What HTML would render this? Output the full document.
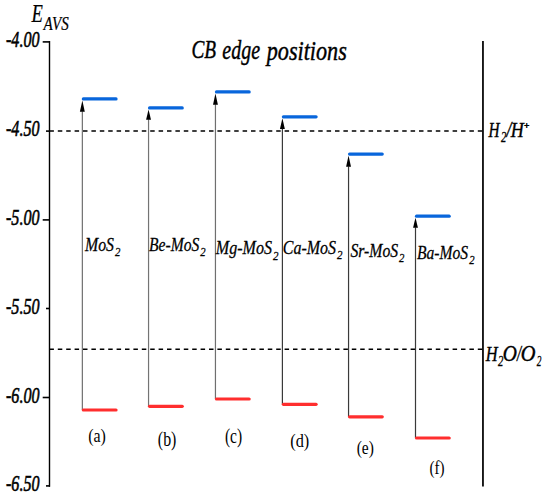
<!DOCTYPE html>
<html><head><meta charset="utf-8"><style>
html,body{margin:0;padding:0;background:#fff;}
body{width:550px;height:498px;overflow:hidden;}
svg{display:block;}
text{font-family:"Liberation Serif",serif;fill:#000;}
</style></head><body>
<svg width="550" height="498" viewBox="0 0 550 498">
<rect width="550" height="498" fill="#fff"/>
<line x1="49.5" y1="41.1" x2="49.5" y2="486.7" stroke="#000" stroke-width="1.4"/>
<line x1="482.95" y1="41" x2="482.95" y2="486.6" stroke="#161616" stroke-width="1.9"/>
<line x1="42.7" y1="41.9" x2="50" y2="41.9" stroke="#000" stroke-width="1.6"/>
<line x1="42.7" y1="219.9" x2="50" y2="219.9" stroke="#000" stroke-width="1.6"/>
<line x1="42.7" y1="397.5" x2="50" y2="397.5" stroke="#000" stroke-width="1.6"/>
<line x1="46" y1="131.1" x2="50" y2="131.1" stroke="#000" stroke-width="1.6"/>
<line x1="46" y1="308.5" x2="50" y2="308.5" stroke="#000" stroke-width="1.6"/>
<line x1="46" y1="485.9" x2="50" y2="485.9" stroke="#000" stroke-width="1.6"/>
<line x1="49.4" y1="131.0" x2="482.3" y2="131.0" stroke="#000" stroke-width="1.6" stroke-dasharray="4.5 3.9"/>
<line x1="49.4" y1="349.3" x2="482.3" y2="349.3" stroke="#000" stroke-width="1.6" stroke-dasharray="4.5 3.9"/>
<line x1="82.35" y1="410.00" x2="82.35" y2="111.15" stroke="#6f6f6f" stroke-width="1.2"/>
<path d="M82.35 100.45 L84.80 111.65 L79.90 111.65 Z" fill="#000"/>
<line x1="83.35" y1="98.95" x2="116.05" y2="98.95" stroke="#0866dc" stroke-width="3.2" stroke-linecap="round"/>
<line x1="83.35" y1="410.00" x2="116.05" y2="410.00" stroke="#ff2e2e" stroke-width="3.2" stroke-linecap="round"/>
<line x1="148.55" y1="406.30" x2="148.55" y2="119.25" stroke="#737373" stroke-width="1.2"/>
<path d="M148.55 109.45 L151.00 119.75 L146.10 119.75 Z" fill="#000"/>
<line x1="149.55" y1="107.95" x2="182.25" y2="107.95" stroke="#0866dc" stroke-width="3.2" stroke-linecap="round"/>
<line x1="149.55" y1="406.30" x2="182.25" y2="406.30" stroke="#ff2e2e" stroke-width="3.2" stroke-linecap="round"/>
<line x1="215.45" y1="399.00" x2="215.45" y2="104.20" stroke="#6f6f6f" stroke-width="1.2"/>
<path d="M215.45 93.40 L217.90 104.70 L213.00 104.70 Z" fill="#000"/>
<line x1="216.45" y1="91.90" x2="249.15" y2="91.90" stroke="#0866dc" stroke-width="3.2" stroke-linecap="round"/>
<line x1="216.45" y1="399.00" x2="249.15" y2="399.00" stroke="#ff2e2e" stroke-width="3.2" stroke-linecap="round"/>
<line x1="282.40" y1="404.30" x2="282.40" y2="128.60" stroke="#3a3a3a" stroke-width="1.2"/>
<path d="M282.40 118.30 L284.85 129.10 L279.95 129.10 Z" fill="#000"/>
<line x1="283.40" y1="116.80" x2="316.10" y2="116.80" stroke="#0866dc" stroke-width="3.2" stroke-linecap="round"/>
<line x1="283.40" y1="404.30" x2="316.10" y2="404.30" stroke="#ff2e2e" stroke-width="3.2" stroke-linecap="round"/>
<line x1="348.55" y1="416.80" x2="348.55" y2="166.35" stroke="#3a3a3a" stroke-width="1.2"/>
<path d="M348.55 155.55 L351.00 166.85 L346.10 166.85 Z" fill="#000"/>
<line x1="349.55" y1="154.05" x2="382.25" y2="154.05" stroke="#0866dc" stroke-width="3.2" stroke-linecap="round"/>
<line x1="349.55" y1="416.80" x2="382.25" y2="416.80" stroke="#ff2e2e" stroke-width="3.2" stroke-linecap="round"/>
<line x1="415.50" y1="438.00" x2="415.50" y2="227.30" stroke="#3a3a3a" stroke-width="1.2"/>
<path d="M415.50 217.70 L417.95 227.80 L413.05 227.80 Z" fill="#000"/>
<line x1="416.50" y1="216.20" x2="449.20" y2="216.20" stroke="#0866dc" stroke-width="3.2" stroke-linecap="round"/>
<line x1="416.50" y1="438.00" x2="449.20" y2="438.00" stroke="#ff2e2e" stroke-width="3.2" stroke-linecap="round"/>
<g transform="translate(31.39,22.49) scale(0.7446,0.9652)"><text x="0" y="0" font-size="25" font-style="italic" font-weight="normal" stroke="#000" stroke-width="0.2">E</text></g>
<g transform="translate(43.55,29.66) scale(0.8593,1.0443)"><text x="0" y="0" font-size="17.5" font-style="italic" font-weight="normal" stroke="#000" stroke-width="0.2">AVS</text></g>
<g transform="translate(191.39,57.62) scale(0.7869,1.0625)"><text x="0" y="0" font-size="24.5" font-style="italic" font-weight="normal" stroke="#000" stroke-width="0.4">CB</text></g>
<g transform="translate(222.32,58.60) scale(0.8151,1.0994)"><text x="0" y="0" font-size="24.5" font-style="italic" font-weight="normal" stroke="#000" stroke-width="0.4">edge</text></g>
<g transform="translate(266.71,59.52) scale(0.9049,1.0953)"><text x="0" y="0" font-size="24.5" font-style="italic" font-weight="normal" stroke="#000" stroke-width="0.4">positions</text></g>
<g transform="translate(6.00,47.38) scale(0.7678,1.0572)"><text x="0" y="0" font-size="21" font-style="italic" font-weight="normal" stroke="#000" stroke-width="0.55">-4.00</text></g>
<g transform="translate(6.00,136.34) scale(0.7678,1.0572)"><text x="0" y="0" font-size="21" font-style="italic" font-weight="normal" stroke="#000" stroke-width="0.55">-4.50</text></g>
<g transform="translate(6.00,225.38) scale(0.7678,1.0572)"><text x="0" y="0" font-size="21" font-style="italic" font-weight="normal" stroke="#000" stroke-width="0.55">-5.00</text></g>
<g transform="translate(6.00,313.84) scale(0.7678,1.0572)"><text x="0" y="0" font-size="21" font-style="italic" font-weight="normal" stroke="#000" stroke-width="0.55">-5.50</text></g>
<g transform="translate(6.00,402.84) scale(0.7678,1.0572)"><text x="0" y="0" font-size="21" font-style="italic" font-weight="normal" stroke="#000" stroke-width="0.55">-6.00</text></g>
<g transform="translate(6.00,491.38) scale(0.7678,1.0572)"><text x="0" y="0" font-size="21" font-style="italic" font-weight="normal" stroke="#000" stroke-width="0.55">-6.50</text></g>
<g transform="translate(85.00,250.75) scale(0.8303,0.9488)"><text x="0" y="0" font-size="19" font-style="italic" font-weight="normal" stroke="#000" stroke-width="0.27999999999999997">MoS<tspan font-size="13" dx="1.2" dy="5.3">2</tspan></text></g>
<g transform="translate(149.00,251.17) scale(0.8215,0.9428)"><text x="0" y="0" font-size="19" font-style="italic" font-weight="normal" stroke="#000" stroke-width="0.27999999999999997">Be-MoS<tspan font-size="13" dx="1.2" dy="5.3">2</tspan></text></g>
<g transform="translate(215.82,254.49) scale(0.8444,0.9862)"><text x="0" y="0" font-size="19" font-style="italic" font-weight="normal" stroke="#000" stroke-width="0.27999999999999997">Mg-MoS<tspan font-size="13" dx="1.2" dy="5.3">2</tspan></text></g>
<g transform="translate(282.83,254.39) scale(0.8404,0.9586)"><text x="0" y="0" font-size="19" font-style="italic" font-weight="normal" stroke="#000" stroke-width="0.27999999999999997">Ca-MoS<tspan font-size="13" dx="1.2" dy="5.3">2</tspan></text></g>
<g transform="translate(350.47,256.58) scale(0.8262,1.0386)"><text x="0" y="0" font-size="19" font-style="italic" font-weight="normal" stroke="#000" stroke-width="0.27999999999999997">Sr-MoS<tspan font-size="13" dx="1.2" dy="5.3">2</tspan></text></g>
<g transform="translate(417.00,259.39) scale(0.8222,0.9586)"><text x="0" y="0" font-size="19" font-style="italic" font-weight="normal" stroke="#000" stroke-width="0.27999999999999997">Ba-MoS<tspan font-size="13" dx="1.2" dy="5.3">2</tspan></text></g>
<g transform="translate(88.21,442.38) scale(0.8396,1.0417)"><text x="0" y="0" font-size="19" font-style="normal" font-weight="normal">(a)</text></g>
<g transform="translate(157.85,445.71) scale(0.8357,1.0665)"><text x="0" y="0" font-size="19" font-style="normal" font-weight="normal">(b)</text></g>
<g transform="translate(224.90,443.04) scale(0.8155,1.0483)"><text x="0" y="0" font-size="19" font-style="normal" font-weight="normal">(c)</text></g>
<g transform="translate(290.27,446.79) scale(0.8572,1.0443)"><text x="0" y="0" font-size="19" font-style="normal" font-weight="normal">(d)</text></g>
<g transform="translate(356.70,453.75) scale(0.8135,1.0404)"><text x="0" y="0" font-size="19" font-style="normal" font-weight="normal">(e)</text></g>
<g transform="translate(429.48,474.28) scale(0.7966,0.9769)"><text x="0" y="0" font-size="19" font-style="normal" font-weight="normal">(f)</text></g>
<g transform="translate(488.62,136.64) scale(0.7275,1.0000)"><text x="0" y="0" font-size="21" font-style="italic" font-weight="normal" stroke="#000" stroke-width="0.4">H</text></g>
<g transform="translate(501.00,142.32) scale(0.7109,1.0250)"><text x="0" y="0" font-size="15" font-style="italic" font-weight="normal" stroke="#000" stroke-width="0.32000000000000006">2</text></g>
<g transform="translate(506.41,137.10) scale(0.8287,1.0528)"><text x="0" y="0" font-size="21" font-style="italic" font-weight="normal" stroke="#000" stroke-width="0.4">/</text></g>
<g transform="translate(510.67,136.64) scale(0.8566,1.0000)"><text x="0" y="0" font-size="21" font-style="italic" font-weight="normal" stroke="#000" stroke-width="0.4">H</text></g>
<g transform="translate(523.56,129.15) scale(0.7109,0.7803)"><text x="0" y="0" font-size="13" font-style="italic" font-weight="normal" stroke="#000" stroke-width="0.9">+</text></g>
<g transform="translate(485.66,360.73) scale(0.7815,0.9522)"><text x="0" y="0" font-size="21" font-style="italic" font-weight="normal" stroke="#000" stroke-width="0.4">H</text></g>
<g transform="translate(498.00,365.67) scale(0.7128,0.9325)"><text x="0" y="0" font-size="15" font-style="italic" font-weight="normal" stroke="#000" stroke-width="0.32000000000000006">2</text></g>
<g transform="translate(502.72,361.10) scale(0.9296,1.0682)"><text x="0" y="0" font-size="21" font-style="italic" font-weight="normal" stroke="#000" stroke-width="0.4">O</text></g>
<g transform="translate(516.90,361.30) scale(0.6998,1.1433)"><text x="0" y="0" font-size="21" font-style="italic" font-weight="normal" stroke="#000" stroke-width="0.4">/</text></g>
<g transform="translate(520.79,361.10) scale(0.9683,1.0682)"><text x="0" y="0" font-size="21" font-style="italic" font-weight="normal" stroke="#000" stroke-width="0.4">O</text></g>
<g transform="translate(536.76,365.67) scale(0.6250,0.9325)"><text x="0" y="0" font-size="15" font-style="italic" font-weight="normal" stroke="#000" stroke-width="0.32000000000000006">2</text></g>
</svg>
</body></html>
